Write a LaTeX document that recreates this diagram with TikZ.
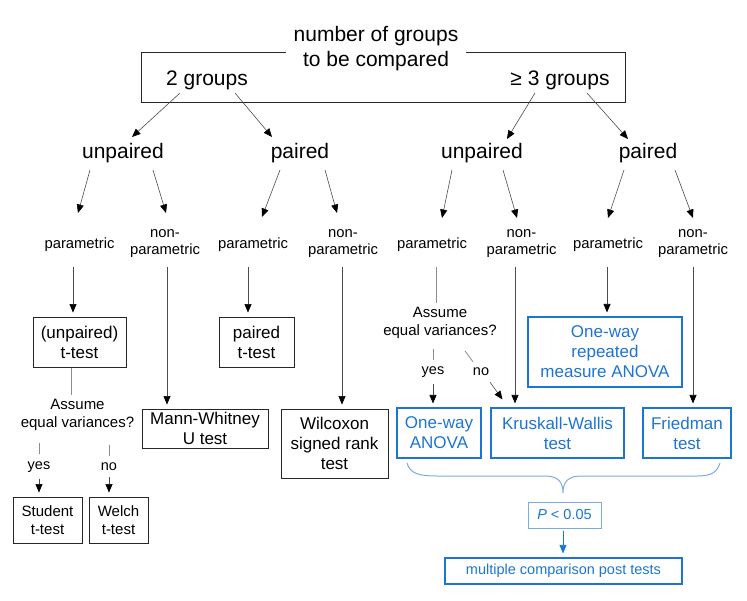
\documentclass[tikz,border=0pt]{standalone}
\usepackage{fontspec}
\setmainfont{Liberation Sans}
\usetikzlibrary{arrows.meta,calc}
\definecolor{bluetxt}{RGB}{28,117,210}
\definecolor{bluelt}{RGB}{120,172,228}
\newcommand\fsBig{\fontsize{21}{25}\selectfont}
\newcommand\fsBox{\fontsize{17}{20}\selectfont}
\newcommand\fsSmall{\fontsize{14.8}{17}\selectfont}
\newcommand\fsQ{\fontsize{15}{18}\selectfont}
\newcommand\fsYN{\fontsize{14.5}{17}\selectfont}
\begin{document}
\begin{tikzpicture}[x=1pt,y=-1pt,
  txt/.style={inner sep=0pt, align=center},
  big/.style={txt, font=\fsBig},
  sm/.style={txt, font=\fsSmall},
  qq/.style={txt, font=\fsQ},
  yn/.style={txt, font=\fsYN},
  bbox/.style={draw=black!85, line width=0.9pt, inner sep=0pt, align=center, font=\fsBox},
  blbox/.style={draw=bluetxt, line width=1.1pt, inner sep=0pt, align=center, font=\fsBox, text=bluetxt},
  arr/.style={draw=black!70, line width=0.6pt, -{Triangle[length=8.5pt,width=7pt,color=black]}, shorten >=4pt},
  blarr/.style={draw=bluetxt, line width=0.6pt, -{Triangle[length=8.5pt,width=7pt,color=bluetxt]}, shorten >=4pt},
  gline/.style={draw=black!45, line width=1pt}
]
\useasboundingbox (0,0) rectangle (747,600);

% top box
\node[draw=black!85, line width=0.9pt, minimum width=484pt, minimum height=50pt, inner sep=0pt] (top) at (383,77) {};
\node[big, fill=white, inner xsep=8pt, inner ysep=2pt] (title) at (376,49) {number of groups\\to be compared};
\node[big] (g2) at (207,80) {2 groups};
\node[big] (g3) at (560,80) {≥ 3 groups};

% level 2
\node[big] (unp1) at (123,153) {unpaired};
\node[big] (par1) at (300,153) {paired};
\node[big] (unp2) at (482,153) {unpaired};
\node[big] (par2) at (648,153) {paired};

\draw[arr, shorten >=0pt] ($(g2)+(-27,13)$) -- ($(unp1)+(9,-16)$);
\draw[arr, shorten >=0pt] ($(g2)+(28,13)$) -- ($(par1)+(-28,-16)$);
\draw[arr, shorten >=0pt] ($(g3)+(-25,13)$) -- ($(unp2)+(25,-14)$);
\draw[arr, shorten >=0pt] ($(g3)+(27,13)$) -- ($(par2)+(-20,-14)$);

% level 3
\node[sm] (pa1) at (79.5,245) {parametric};
\node[sm] (np1) at (165,243.5) {non-\\parametric};
\node[sm] (pa2) at (253,245) {parametric};
\node[sm] (np2) at (343,243.5) {non-\\parametric};
\node[sm] (pa3) at (432,245) {parametric};
\node[sm] (np3) at (521.5,243.5) {non-\\parametric};
\node[sm] (pa4) at (608,245) {parametric};
\node[sm] (np4) at (693,243.5) {non-\\parametric};

\draw[arr, shorten >=0pt] ($(unp1)+(-33,17)$) -- ($(pa1)+(-1.5,-32)$);
\draw[arr, shorten >=0pt] ($(unp1)+(30,17)$) -- ($(np1)+(1,-30.5)$);
\draw[arr, shorten >=0pt] ($(par1)+(-20,17)$) -- ($(pa2)+(9,-28)$);
\draw[arr, shorten >=0pt] ($(par1)+(25,17)$) -- ($(np2)+(-6,-30.5)$);
\draw[arr, shorten >=0pt] ($(unp2)+(-30,17)$) -- ($(pa3)+(10,-27)$);
\draw[arr, shorten >=0pt] ($(unp2)+(21,17)$) -- ($(np3)+(-4.5,-25.5)$);
\draw[arr, shorten >=0pt] ($(par2)+(-24,17)$) -- ($(pa4)+(0,-27)$);
\draw[arr, shorten >=0pt] ($(par2)+(27,17)$) -- ($(np4)+(0,-25.5)$);

% black boxes
\node[bbox, minimum width=93pt, minimum height=50pt] (ttest) at (79.5,342) {(unpaired)\\t-test};
\node[bbox, minimum width=75pt, minimum height=50pt] (pttest) at (256.5,342) {paired\\t-test};
\node[bbox, minimum width=126pt, minimum height=39pt] (mann) at (205,428.5) {Mann-Whitney\\U test};
\node[bbox, minimum width=107pt, minimum height=69pt] (wilc) at (334.5,443.5) {Wilcoxon\\signed rank\\test};
\node[bbox, font=\fsQ, minimum width=69pt, minimum height=46pt] (student) at (47.5,520) {Student\\t-test};
\node[bbox, font=\fsQ, minimum width=59pt, minimum height=46pt] (welch) at (118.5,520) {Welch\\t-test};

% blue boxes
\node[blbox, minimum width=154pt, minimum height=70pt] (rep) at (605,352) {One-way\\repeated\\measure ANOVA};
\node[blbox, minimum width=84pt, minimum height=50pt] (anova) at (439,433) {One-way\\ANOVA};
\node[blbox, minimum width=133pt, minimum height=50pt] (kw) at (557.5,433) {Kruskall-Wallis\\test};
\node[blbox, minimum width=88pt, minimum height=50pt] (fried) at (687,433) {Friedman\\test};

% vertical connectors from level 3
\draw[arr] ($(pa1)+(-6.5,22)$) coordinate (v1) -- (v1 |- ttest.north);
\draw[arr] ($(pa2)+(-5,22)$) coordinate (v2) -- (v2 |- pttest.north);
\draw[arr] ($(np1)+(2,23.5)$) coordinate (v3) -- (v3 |- mann.north);
\draw[arr] ($(np2)+(-1,23.5)$) coordinate (v4) -- (v4 |- wilc.north);
\draw[arr] ($(np3)+(-6.5,23.5)$) coordinate (v5) -- (v5 |- kw.north);
\draw[arr] ($(pa4)+(-1,22)$) coordinate (v6) -- (v6 |- rep.north);
\draw[arr] ($(np4)+(0,23.5)$) coordinate (v7) -- (v7 |- fried.north);

% left decision
\node[qq] (ass1) at (77.5,415) {Assume\\equal variances?};
\node[yn] (yes1) at (39,467) {yes};
\node[yn] (no1) at (109,467) {no};
\draw[gline, shorten >=4pt] ($(ttest.south)+(-8.5,1)$) coordinate (v8) -- (v8 |- ass1.north);
\draw[gline] ($(yes1.north)+(0,-18)$) -- ($(yes1.north)+(0,-7)$);
\draw[gline] ($(no1.north)+(0,-18)$) -- ($(no1.north)+(0,-7)$);
\draw[arr] ($(yes1.south)+(0,6)$) -- (yes1 |- student.north);
\draw[arr] ($(no1.south)+(0,6)$) -- (no1 |- welch.north);

% right decision
\node[qq] (ass2) at (440,323) {Assume\\equal variances?};
\node[yn] (yes2) at (433,372) {yes};
\node[yn] (no2) at (481,372) {no};
\draw[gline, shorten >=4pt] ($(pa3)+(4,22)$) coordinate (v9) -- (v9 |- ass2.north);
\draw[gline] ($(yes2.north)+(0,-17)$) -- ($(yes2.north)+(0,-6)$);
\draw[gline, line width=0.8pt] ($(no2.north)+(-16,-17)$) -- ($(no2.north)+(-8,-6)$);
\draw[arr] ($(yes2.south)+(0,6)$) -- (yes2 |- anova.north);
\draw[arr, shorten >=0pt] ($(no2.south)+(9,6)$) -- ($(kw.north west)+(12,-8)$);

% brace
\draw[bluelt, line width=1pt] (407,463) .. controls (410,474) and (420,476) .. (438,476)
  -- (545,476) .. controls (558,476) and (563,482) .. (563,493)
  .. controls (563,482) and (568,476) .. (581,476) -- (697,476)
  .. controls (712,476) and (717,472) .. (720,463);

% bottom
\node[draw=bluelt, line width=1pt, inner sep=0pt, minimum width=73pt, minimum height=26pt, text=bluetxt, font=\fsYN] (pbox) at (564.5,515) {\textit{P} < 0.05};
\node[draw=bluetxt, line width=1.1pt, inner sep=0pt, minimum width=237pt, minimum height=26pt, text=bluetxt, font=\fsYN] (multi) at (563.5,571) {multiple comparison post tests};
\draw[blarr] ($(pbox.south)+(-1.5,2)$) coordinate (v10) -- (v10 |- multi.north);
\end{tikzpicture}
\end{document}
